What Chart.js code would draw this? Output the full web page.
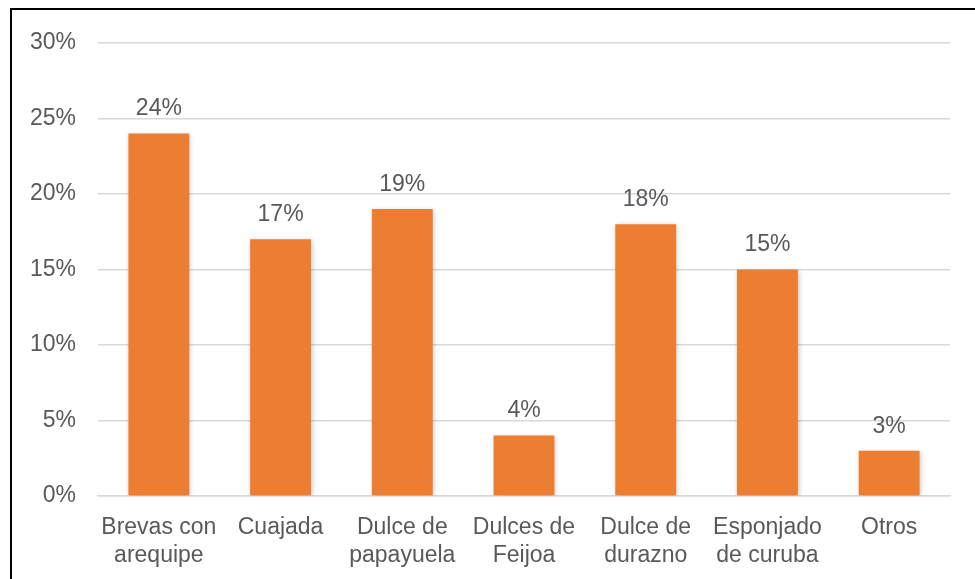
<!DOCTYPE html>
<html>
<head>
<meta charset="utf-8">
<script src="https://cdn.jsdelivr.net/npm/chart.js@4"></script>
<style>
    html, body { margin: 0; padding: 0; background: #fff; }
    #wrap { position: relative; width: 975px; height: 579px; overflow: hidden; }
    #frame { position: absolute; left: 10px; top: 8px; width: 1000px; height: 600px; border-left: 2px solid #000; border-top: 2px solid #000; }
    canvas { position: absolute; left: 0; top: 0; }
</style>
</head>
<body>
<div id="wrap">
    <div id="frame"></div>
    <canvas id="postresChart" width="975" height="579"></canvas>
</div>
<script>
const categories = [
    ["Brevas con", "arequipe"],
    "Cuajada",
    ["Dulce de", "papayuela"],
    ["Dulces de", "Feijoa"],
    ["Dulce de", "durazno"],
    ["Esponjado", "de curuba"],
    "Otros"
];
const percentages = [24, 17, 19, 4, 18, 15, 3];
const yTicks = [0, 5, 10, 15, 20, 25, 30];

const textColor = "#595959";
const fontFamily = "'Liberation Sans', Arial, sans-serif";

// soft shadow behind the bars
const barShadow = {
    id: "barShadow",
    beforeDatasetDraw(chart) {
        const c = chart.ctx;
        c.save();
        c.shadowColor = "rgba(0,0,0,0.25)";
        c.shadowBlur = 5;
        c.shadowOffsetX = 1;
        c.shadowOffsetY = 1;
    },
    afterDatasetDraw(chart) {
        chart.ctx.restore();
    }
};

// value labels above each bar
const valueLabels = {
    id: "valueLabels",
    afterDatasetsDraw(chart) {
        const c = chart.ctx;
        const meta = chart.getDatasetMeta(0);
        c.save();
        c.fillStyle = textColor;
        c.font = "23px " + fontFamily;
        c.textAlign = "center";
        c.textBaseline = "bottom";
        meta.data.forEach((bar, i) => {
            c.fillText(percentages[i] + "%", bar.x, bar.y - 13);
        });
        c.restore();
    }
};

const ctx = document.getElementById("postresChart").getContext("2d");
new Chart(ctx, {
    type: "bar",
    data: {
        labels: categories,
        datasets: [{
            data: percentages,
            backgroundColor: "#ED7D31",
            categoryPercentage: 1,
            barPercentage: 0.5
        }]
    },
    options: {
        responsive: false,
        animation: false,
        layout: { padding: { top: 43, right: 25, left: 0, bottom: 0 } },
        plugins: {
            legend: { display: false },
            tooltip: { enabled: false }
        },
        scales: {
            x: {
                grid: { display: false, drawTicks: false },
                border: { color: "#d9d9d9", width: 1.5 },
                ticks: {
                    color: textColor,
                    font: { family: fontFamily, size: 23 },
                    padding: 18,
                    maxRotation: 0,
                    autoSkip: false
                },
                afterFit(scale) { scale.height = 83; }
            },
            y: {
                min: 0,
                max: 30,
                afterBuildTicks(scale) {
                    scale.ticks = yTicks.map(v => ({ value: v }));
                },
                grid: { color: "#d9d9d9", lineWidth: 1.5, drawTicks: false },
                border: { display: false },
                ticks: {
                    color: textColor,
                    font: { family: fontFamily, size: 23 },
                    padding: 22,
                    callback: v => v + "%"
                },
                afterFit(scale) { scale.width = 98; }
            }
        }
    },
    plugins: [barShadow, valueLabels]
});
</script>
</body>
</html>
